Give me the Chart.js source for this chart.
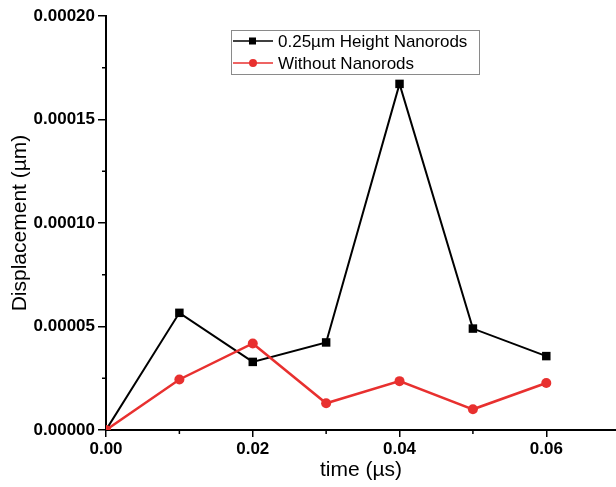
<!DOCTYPE html>
<html>
<head>
<meta charset="utf-8">
<script src="https://cdn.jsdelivr.net/npm/chart.js@4/dist/chart.umd.min.js"></script>
<style>
  html, body { margin: 0; padding: 0; background: #fff; }
  #c { display: block; }
</style>
</head>
<body>
<canvas id="c" width="616" height="487"></canvas>
<script>
// time in microseconds
const times = [0, 0.01, 0.02, 0.03, 0.04, 0.05, 0.06];
// displacement in micrometres
const withNanorods = [0, 0.0000566, 0.0000329, 0.0000423, 0.0001672, 0.0000490, 0.0000357];
const withoutNanorods = [0, 0.0000244, 0.0000418, 0.0000129, 0.0000236, 0.0000100, 0.0000227];
const seriesLabels = ['0.25\u00b5m Height Nanorods', 'Without Nanorods'];
const xMinorTicks = [0.01, 0.03, 0.05];
const yMinorTicks = [0.000025, 0.000075, 0.000125, 0.000175];

const BLACK = '#000000';
const RED = '#e8302f';
const tickFont = { family: 'Liberation Sans, Arial, sans-serif', size: 17, weight: 'bold' };
const titleFont = { family: 'Liberation Sans, Arial, sans-serif', size: 21 };

function toPoints(ys) {
  return times.map((t, i) => ({ x: t, y: ys[i] }));
}

// small ticks between the labelled ones
const minorTicks = {
  id: 'minorTicks',
  afterDraw(chart) {
    const ctx = chart.ctx;
    const xs = chart.scales.x, ys = chart.scales.y;
    const area = chart.chartArea;
    ctx.save();
    ctx.strokeStyle = '#000';
    ctx.lineWidth = 1.5;
    ctx.beginPath();
    xMinorTicks.forEach(v => {
      const px = xs.getPixelForValue(v);
      ctx.moveTo(px, area.bottom);
      ctx.lineTo(px, area.bottom + 4);
    });
    yMinorTicks.forEach(v => {
      const py = ys.getPixelForValue(v);
      ctx.moveTo(area.left, py);
      ctx.lineTo(area.left - 4, py);
    });
    ctx.stroke();
    ctx.restore();
  }
};

// boxed legend inside the plot, like the original
const boxLegend = {
  id: 'boxLegend',
  afterDraw(chart) {
    const ctx = chart.ctx;
    const box = { x: 231, y: 30, w: 248, h: 44 };
    ctx.save();
    ctx.fillStyle = '#fff';
    ctx.fillRect(box.x, box.y, box.w, box.h);
    ctx.strokeStyle = '#8a8a8a';
    ctx.lineWidth = 1;
    ctx.strokeRect(box.x + 0.5, box.y + 0.5, box.w, box.h);
    const rows = [41, 63];
    chart.data.datasets.forEach((ds, i) => {
      const y = rows[i];
      ctx.strokeStyle = ds.borderColor;
      ctx.lineWidth = 1.5;
      ctx.beginPath();
      ctx.moveTo(233, y);
      ctx.lineTo(273, y);
      ctx.stroke();
      ctx.fillStyle = ds.borderColor;
      if (ds.pointStyle === 'rect') {
        ctx.fillRect(249, y - 3.5, 7, 7);
      } else {
        ctx.beginPath();
        ctx.arc(253, y, 4, 0, Math.PI * 2);
        ctx.fill();
      }
      ctx.fillStyle = '#000';
      ctx.font = '17px "Liberation Sans", Arial, sans-serif';
      ctx.textBaseline = 'middle';
      ctx.fillText(ds.label, 278, y + 1);
    });
    ctx.restore();
  }
};

new Chart(document.getElementById('c'), {
  type: 'line',
  data: {
    datasets: [
      {
        label: seriesLabels[0],
        data: toPoints(withNanorods),
        borderColor: BLACK,
        backgroundColor: BLACK,
        borderWidth: 2,
        pointStyle: 'rect',
        pointRadius: 6,
        pointBorderWidth: 0,
        order: 2
      },
      {
        label: seriesLabels[1],
        data: toPoints(withoutNanorods),
        borderColor: RED,
        backgroundColor: RED,
        borderWidth: 2.5,
        pointStyle: 'circle',
        pointRadius: 5,
        pointBorderWidth: 0,
        order: 1
      }
    ]
  },
  options: {
    responsive: false,
    animation: false,
    layout: { autoPadding: false, padding: { top: 16, right: 0, bottom: 0, left: 0 } },
    plugins: {
      legend: { display: false },
      tooltip: { enabled: false }
    },
    scales: {
      x: {
        type: 'linear',
        min: 0,
        max: 0.0695,
        afterFit(scale) { scale.height = 57; },
        border: { color: '#000', width: 2 },
        grid: { drawOnChartArea: false, tickLength: 7, tickColor: '#000', lineWidth: 1.5 },
        ticks: {
          stepSize: 0.02,
          includeBounds: false,
          color: '#000',
          font: tickFont,
          padding: 2,
          maxRotation: 0,
          callback: v => v.toFixed(2)
        },
        title: {
          display: true,
          text: 'time (\u00b5s)',
          color: '#000',
          font: titleFont,
          padding: { top: 0, bottom: 4 }
        }
      },
      y: {
        min: 0,
        max: 0.0002,
        afterFit(scale) { scale.width = 106; },
        border: { color: '#000', width: 2 },
        grid: { drawOnChartArea: false, tickLength: 8, tickColor: '#000', lineWidth: 1.5 },
        ticks: {
          stepSize: 0.00005,
          color: '#000',
          font: tickFont,
          padding: 3,
          callback: v => v.toFixed(5)
        },
        title: {
          display: true,
          text: 'Displacement (\u00b5m)',
          color: '#000',
          font: titleFont,
          padding: { top: 8, bottom: 0 }
        }
      }
    }
  },
  plugins: [minorTicks, boxLegend]
});
</script>
</body>
</html>
